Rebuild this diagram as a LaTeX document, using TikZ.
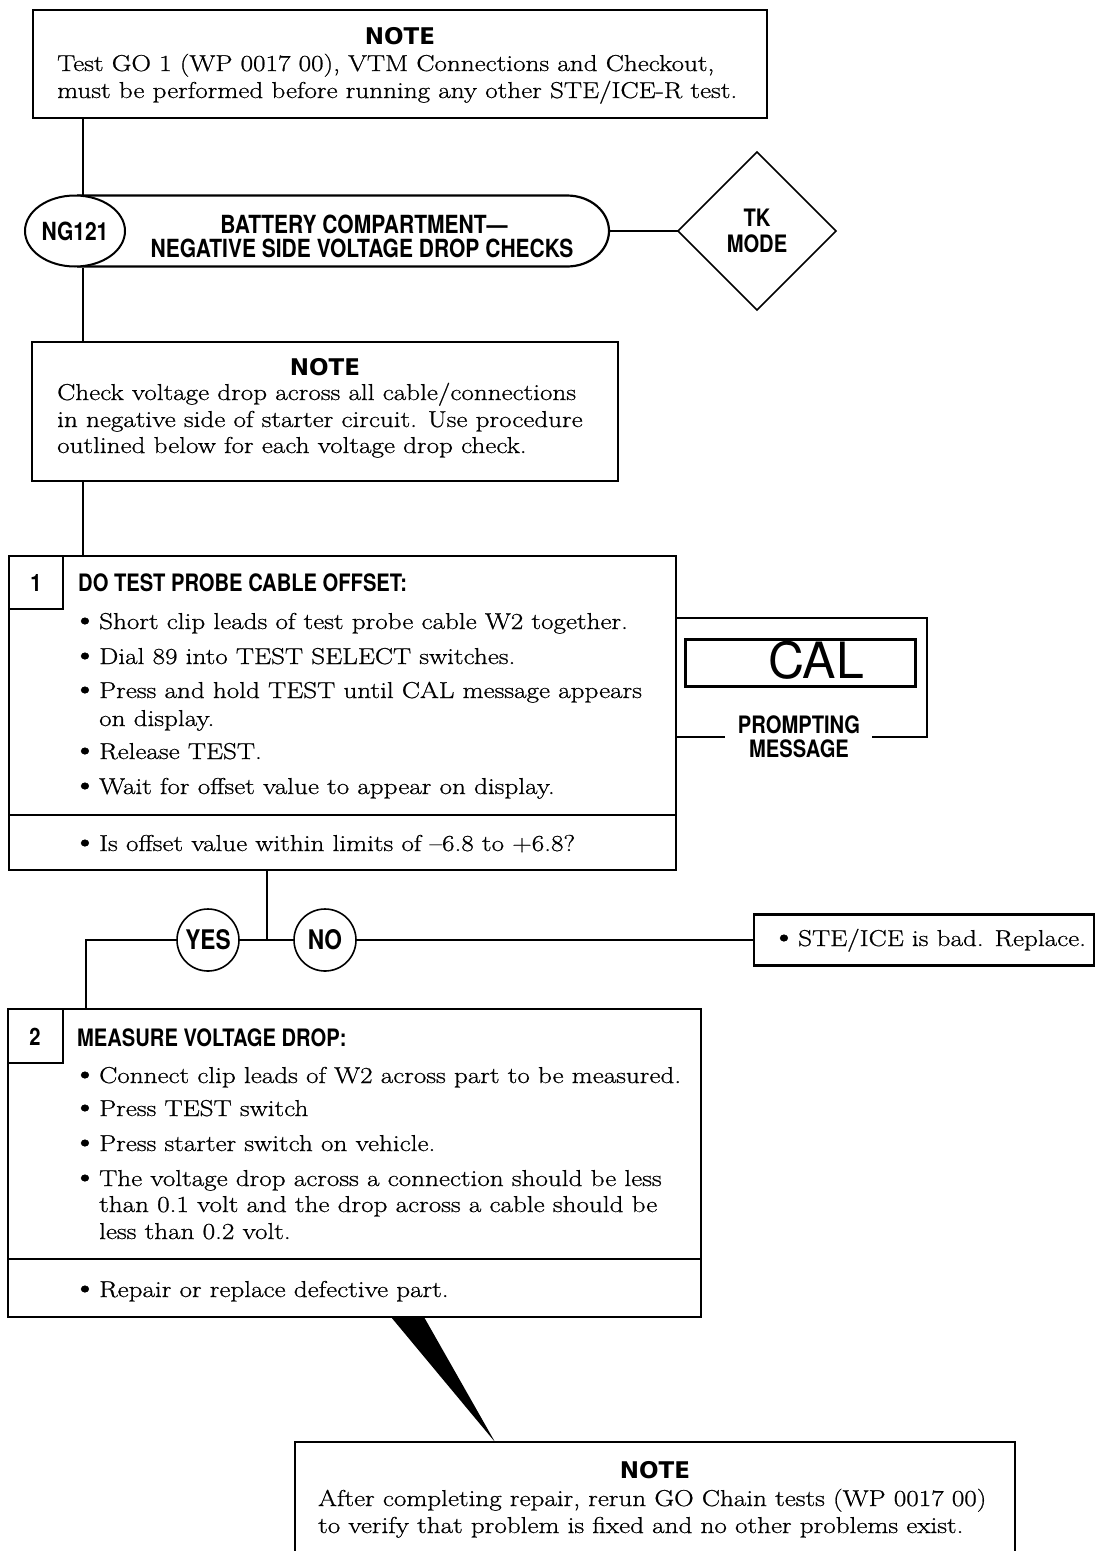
\documentclass[tikz,border=0pt]{standalone}
\usepackage{fontspec}
\usetikzlibrary{shapes.geometric}
\setmainfont{Latin Modern Roman}[FakeStretch=1.18, FakeBold=0.8]
\newfontfamily\headfont{TeX Gyre Heros}[FakeStretch=0.84]
\newfontfamily\notefont{DejaVu Sans}
\newfontfamily\calfont{TeX Gyre Heros}
\newcommand{\bul}{\makebox[21pt][l]{\hspace{-6pt}\fontsize{30}{30}\selectfont\textbullet}}

\begin{document}
\begin{tikzpicture}[x=1pt, y=-1pt,
    frame/.style={line width=2.2pt},
    box/.style={draw, frame, inner sep=0pt, outer sep=0pt},
    conn/.style={line width=1.6pt},
    body/.style={anchor=base west, inner sep=0pt, font=\fontsize{23}{28}\selectfont},
    head/.style={inner sep=0pt, font=\headfont\bfseries\fontsize{24}{26}\selectfont},
    notehead/.style={inner sep=0pt, font=\notefont\bfseries\fontsize{23}{26}\selectfont},
    tag/.style={circle, draw, conn, minimum size=62pt, inner sep=0pt,
        font=\headfont\bfseries\fontsize{27}{27}\selectfont}]

\useasboundingbox (0,0) rectangle (1096,1551);

% -----------------------------
% Opening note
% -----------------------------
\node[box, minimum width=734pt, minimum height=108pt] (note1) at (400,64) {};
\node[notehead] (note1h) at (400,36) {NOTE};
\node[body] (note1a) at (57,71) {Test GO 1 (WP 0017 00), VTM Connections and Checkout,};
\node[body] (note1b) at (57,98) {must be performed before running any other STE/ICE-R test.};

% -----------------------------
% Title bar and mode diamond
% -----------------------------
\coordinate (trunk) at (83,0);
\draw[frame] (77,195.5) -- (567,195.5)
    arc[start angle=-90, end angle=90, x radius=42, y radius=35.5] -- (77,266.5);
\node[ellipse, draw, line width=2pt, fill=white, minimum width=100pt, minimum height=71pt,
    inner sep=0pt, font=\headfont\bfseries\fontsize{25}{25}\selectfont] (ng) at (75,231) {NG121};
\node[head, font=\headfont\bfseries\fontsize{25}{26}\selectfont] (title1) at (364,224) {BATTERY COMPARTMENT—};
\node[head, font=\headfont\bfseries\fontsize{25}{26}\selectfont] (title2) at (362,248) {NEGATIVE SIDE VOLTAGE DROP CHECKS};
\coordinate (barE) at (609,231);
\node[diamond, box, head, conn, minimum width=158pt, minimum height=158pt, align=center]
    (tk) at (757,231) {TK\\MODE};
\draw[conn] (barE) -- (tk.west);

% -----------------------------
% Second note
% -----------------------------
\node[box, minimum width=586pt, minimum height=139pt] (note2) at (325,411.5) {};
\node[notehead] (note2h) at (325,367) {NOTE};
\node[body] (note2a) at (57,400) {Check voltage drop across all cable/connections};
\node[body] (note2b) at (57,427) {in negative side of starter circuit. Use procedure};
\node[body] (note2c) at (57,453) {outlined below for each voltage drop check.};

% -----------------------------
% Step 1
% -----------------------------
\node[box, minimum width=667pt, minimum height=314pt] (step1) at (342.5,713) {};
\draw[frame] (9,815) -- (676,815);
\draw[frame] (63,556) -- (63,609) -- (9,609);
\node[head] (s1n) at (36,583) {1};
\node[head, anchor=west] (s1h) at (78,583) {DO TEST PROBE CABLE OFFSET:};
\node[body] (s1a) at (78,629) {\bul Short clip leads of test probe cable W2 together.};
\node[body] (s1b) at (78,664) {\bul Dial 89 into TEST SELECT switches.};
\node[body] (s1c) at (78,698) {\bul Press and hold TEST until CAL message appears};
\node[body] (s1d) at (99,726) {on display.};
\node[body] (s1e) at (78,759) {\bul Release TEST.};
\node[body] (s1f) at (78,794) {\bul Wait for offset value to appear on display.};
\node[body] (s1q) at (78,851) {\bul Is offset value within limits of --6.8 to +6.8?};

% trunk down the left side
\draw[conn] (note1.south -| trunk) -- (ng.north -| trunk);
\draw[conn] (ng.south -| trunk) -- (note2.north -| trunk);
\draw[conn] (note2.south -| trunk) -- (step1.north -| trunk);

% prompting message display
\draw[frame] (676,618) -- (927,618) -- (927,737) -- (872,737);
\draw[frame] (676,737) -- (725,737);
\draw[line width=3pt] (685,639) rectangle (915,686);
\node[inner sep=0pt, font=\calfont\fontsize{50}{50}\selectfont] (cal) at (816,660) {CAL};
\node[head] (prompt1) at (799,725) {PROMPTING};
\node[head] (prompt2) at (799,749) {MESSAGE};

% -----------------------------
% Decision
% -----------------------------
\coordinate (fork) at (267,0);
\coordinate (yesleg) at (86,0);
\node[tag] (yes) at (208,940) {YES};
\node[tag] (no) at (325,940) {NO};
\node[box, minimum width=340pt, minimum height=51pt] (ste) at (924,940) {};
\node[body] (stea) at (777,946) {\bul STE/ICE is bad. Replace.};

% -----------------------------
% Step 2
% -----------------------------
\node[box, minimum width=693pt, minimum height=308pt] (step2) at (354.5,1163) {};
\draw[frame] (8,1259) -- (701,1259);
\draw[frame] (63,1009) -- (63,1063) -- (8,1063);
\node[head] (s2n) at (35,1037) {2};
\node[head, anchor=west] (s2h) at (77,1038) {MEASURE VOLTAGE DROP:};
\node[body] (s2a) at (78,1083) {\bul Connect clip leads of W2 across part to be measured.};
\node[body] (s2b) at (78,1116) {\bul Press TEST switch};
\node[body] (s2c) at (78,1151) {\bul Press starter switch on vehicle.};
\node[body] (s2d) at (78,1186) {\bul The voltage drop across a connection should be less};
\node[body] (s2e) at (99,1212) {than 0.1 volt and the drop across a cable should be};
\node[body] (s2f) at (99,1239) {less than 0.2 volt.};
\node[body] (s2r) at (78,1297) {\bul Repair or replace defective part.};

\draw[conn] (step1.south -| fork) -- (yes.east -| fork);
\draw[conn] (yes.east) -- (no.west);
\draw[conn] (yes.west) -| (step2.north -| yesleg);
\draw[conn] (no.east) -- (ste.west);

% -----------------------------
% Closing note with pointer
% -----------------------------
\node[box, minimum width=720pt, minimum height=124pt] (note3) at (655,1504) {};
\node[notehead] (note3h) at (655,1470) {NOTE};
\node[body] (note3a) at (318,1506) {After completing repair, rerun GO Chain tests (WP 0017 00)};
\node[body] (note3b) at (318,1533) {to verify that problem is fixed and no other problems exist.};
\coordinate (wedgeA) at (391,1317);
\coordinate (wedgeB) at (424,1317);
\coordinate (wedgeTip) at (495,1442);
\fill (wedgeA) -- (wedgeB) -- (wedgeTip) -- cycle;

\end{tikzpicture}
\end{document}
